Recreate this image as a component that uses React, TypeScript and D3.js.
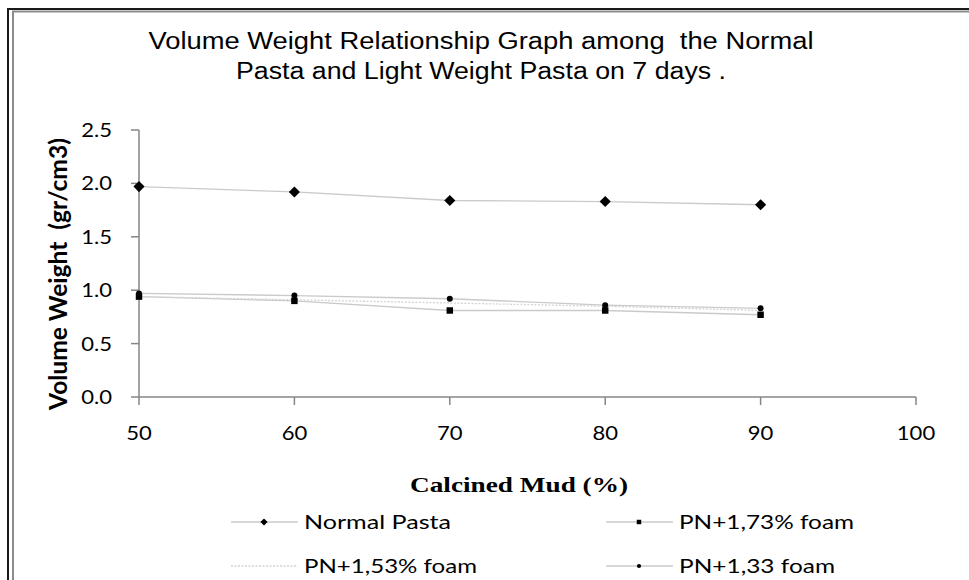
import React from "react";
import * as d3 from "d3";

const xValues = [50, 60, 70, 80, 90];
const normalPasta = [1.97, 1.92, 1.84, 1.83, 1.8];
const pn173 = [0.94, 0.9, 0.81, 0.81, 0.77];
const pn153 = [0.94, 0.91, 0.88, 0.85, 0.81];
const pn133 = [0.97, 0.95, 0.92, 0.86, 0.83];
const xTicks = [50, 60, 70, 80, 90, 100];
const yTicks = [0, 0.5, 1.0, 1.5, 2.0, 2.5];
const titleLines = ["Volume Weight Relationship Graph among  the Normal", "Pasta and Light Weight Pasta on 7 days ."];
const seriesNames = ["Normal Pasta", "PN+1,73% foam", "PN+1,53% foam", "PN+1,33 foam"];

const W = 969;
const H = 580;

export default function App() {
  const x = d3.scaleLinear().domain([50, 100]).range([139, 916]);
  const y = d3.scaleLinear().domain([0, 2.5]).range([397, 130]);
  const line = d3
    .line<number>()
    .x((_, i) => x(xValues[i]))
    .y((d) => y(d));

  const diamond = d3.symbol(d3.symbolSquare, 62)()!;
  const square = d3.symbol(d3.symbolSquare, 42)()!;
  const circle = d3.symbol(d3.symbolCircle, 28)()!;
  const diamondL = d3.symbol(d3.symbolSquare, 26)()!;
  const squareL = d3.symbol(d3.symbolSquare, 20)()!;
  const circleL = d3.symbol(d3.symbolCircle, 14)()!;

  const lineColor = "#cacaca";
  const axisColor = "#868686";
  const sans = "Lato, 'Open Sans', sans-serif";

  const series = [
    { name: seriesNames[0], data: normalPasta, marker: diamond, mL: diamondL, rot: 45, dash: undefined },
    { name: seriesNames[1], data: pn173, marker: square, mL: squareL, rot: 0, dash: undefined },
    { name: seriesNames[2], data: pn153, marker: null, mL: null, rot: 0, dash: "2,1.5" },
    { name: seriesNames[3], data: pn133, marker: circle, mL: circleL, rot: 0, dash: undefined },
  ];

  const legendPos = [
    { lx: 231, ly: 522, tw: 147 },
    { lx: 606, ly: 522, tw: 175 },
    { lx: 231, ly: 566, tw: 173 },
    { lx: 606, ly: 566, tw: 156 },
  ];

  return (
    <svg
      width={W}
      height={H}
      style={{ position: "absolute", left: 0, top: 0, background: "#fff" }}
    >
      <rect x={0} y={0} width={W} height={H} fill="#fff" />
      {/* frame */}
      <path d={`M8,${H} V9 H${W}`} fill="none" stroke="#1a1a1a" strokeWidth={2} />
      <path d={`M13,${H} V11.5 H${W}`} fill="none" stroke="#8c8c8c" strokeWidth={2} />

      {/* title */}
      {titleLines.map((t, i) => (
        <text
          key={i}
          x={481}
          y={49 + i * 30}
          textAnchor="middle"
          fontFamily="'Liberation Sans', Arial, sans-serif"
          fontSize={23}
          fill="#000"
          textLength={i === 0 ? 665 : 490}
          lengthAdjust="spacingAndGlyphs"
          style={{ whiteSpace: "pre" }}
        >
          {t}
        </text>
      ))}

      {/* axes */}
      <line x1={x(50)} x2={x(50)} y1={y(2.5)} y2={y(0)} stroke={axisColor} strokeWidth={1.5} />
      <line x1={x(50)} x2={x(100)} y1={y(0)} y2={y(0)} stroke={axisColor} strokeWidth={1.5} />
      {yTicks.map((t) => (
        <g key={"y" + t}>
          <line x1={x(50) - 8} x2={x(50)} y1={y(t)} y2={y(t)} stroke={axisColor} strokeWidth={1.5} />
          <text
            transform={`translate(112,${y(t) + 7}) scale(1.16,1)`}
            textAnchor="end"
            fontFamily={sans}
            fontSize={19}
            fill="#000"
          >
            {t.toFixed(1)}
          </text>
        </g>
      ))}
      {xTicks.map((t) => (
        <g key={"x" + t}>
          <line x1={x(t)} x2={x(t)} y1={y(0)} y2={y(0) + 8} stroke={axisColor} strokeWidth={1.5} />
          <text
            transform={`translate(${x(t)},${440}) scale(1.16,1)`}
            textAnchor="middle"
            fontFamily={sans}
            fontSize={19}
            fill="#000"
          >
            {t}
          </text>
        </g>
      ))}

      {/* axis titles */}
      <text
        transform={`translate(67,274) rotate(-90)`}
        textAnchor="middle"
        fontFamily={sans}
        fontWeight="bold"
        fontSize={25}
        fill="#000"
        textLength={272}
        lengthAdjust="spacingAndGlyphs"
        style={{ whiteSpace: "pre" }}
      >
        {"Volume Weight  (gr/cm3)"}
      </text>
      <text
        x={519}
        y={492}
        textAnchor="middle"
        fontFamily="'Liberation Serif', 'Times New Roman', serif"
        fontWeight="bold"
        fontSize={21}
        fill="#000"
        textLength={218}
        lengthAdjust="spacingAndGlyphs"
      >
        Calcined Mud (%)
      </text>

      {/* series lines */}
      {series.map((s) => (
        <path
          key={"l" + s.name}
          d={line(s.data)!}
          fill="none"
          stroke={s.dash ? "#d4d4d4" : lineColor}
          strokeWidth={1.3}
          strokeDasharray={s.dash}
        />
      ))}
      {/* markers */}
      {series.map((s) =>
        s.marker
          ? s.data.map((v, i) => (
              <path
                key={s.name + i}
                d={s.marker!}
                transform={`translate(${x(xValues[i])},${y(v)}) rotate(${s.rot})`}
                fill="#000"
              />
            ))
          : null
      )}

      {/* legend */}
      {series.map((s, i) => {
        const p = legendPos[i];
        return (
          <g key={"lg" + s.name}>
            <line
              x1={p.lx}
              x2={p.lx + 67}
              y1={p.ly}
              y2={p.ly}
              stroke={s.dash ? "#d4d4d4" : lineColor}
              strokeWidth={1.3}
              strokeDasharray={s.dash}
            />
            {s.mL ? (
              <path d={s.mL} transform={`translate(${p.lx + 33},${p.ly}) rotate(${s.rot})`} fill="#000" />
            ) : null}
            <text
              x={p.lx + 73}
              y={p.ly + 7}
              fontFamily={sans}
              fontSize={19}
              fill="#000"
              textLength={p.tw}
              lengthAdjust="spacingAndGlyphs"
            >
              {s.name}
            </text>
          </g>
        );
      })}
    </svg>
  );
}
